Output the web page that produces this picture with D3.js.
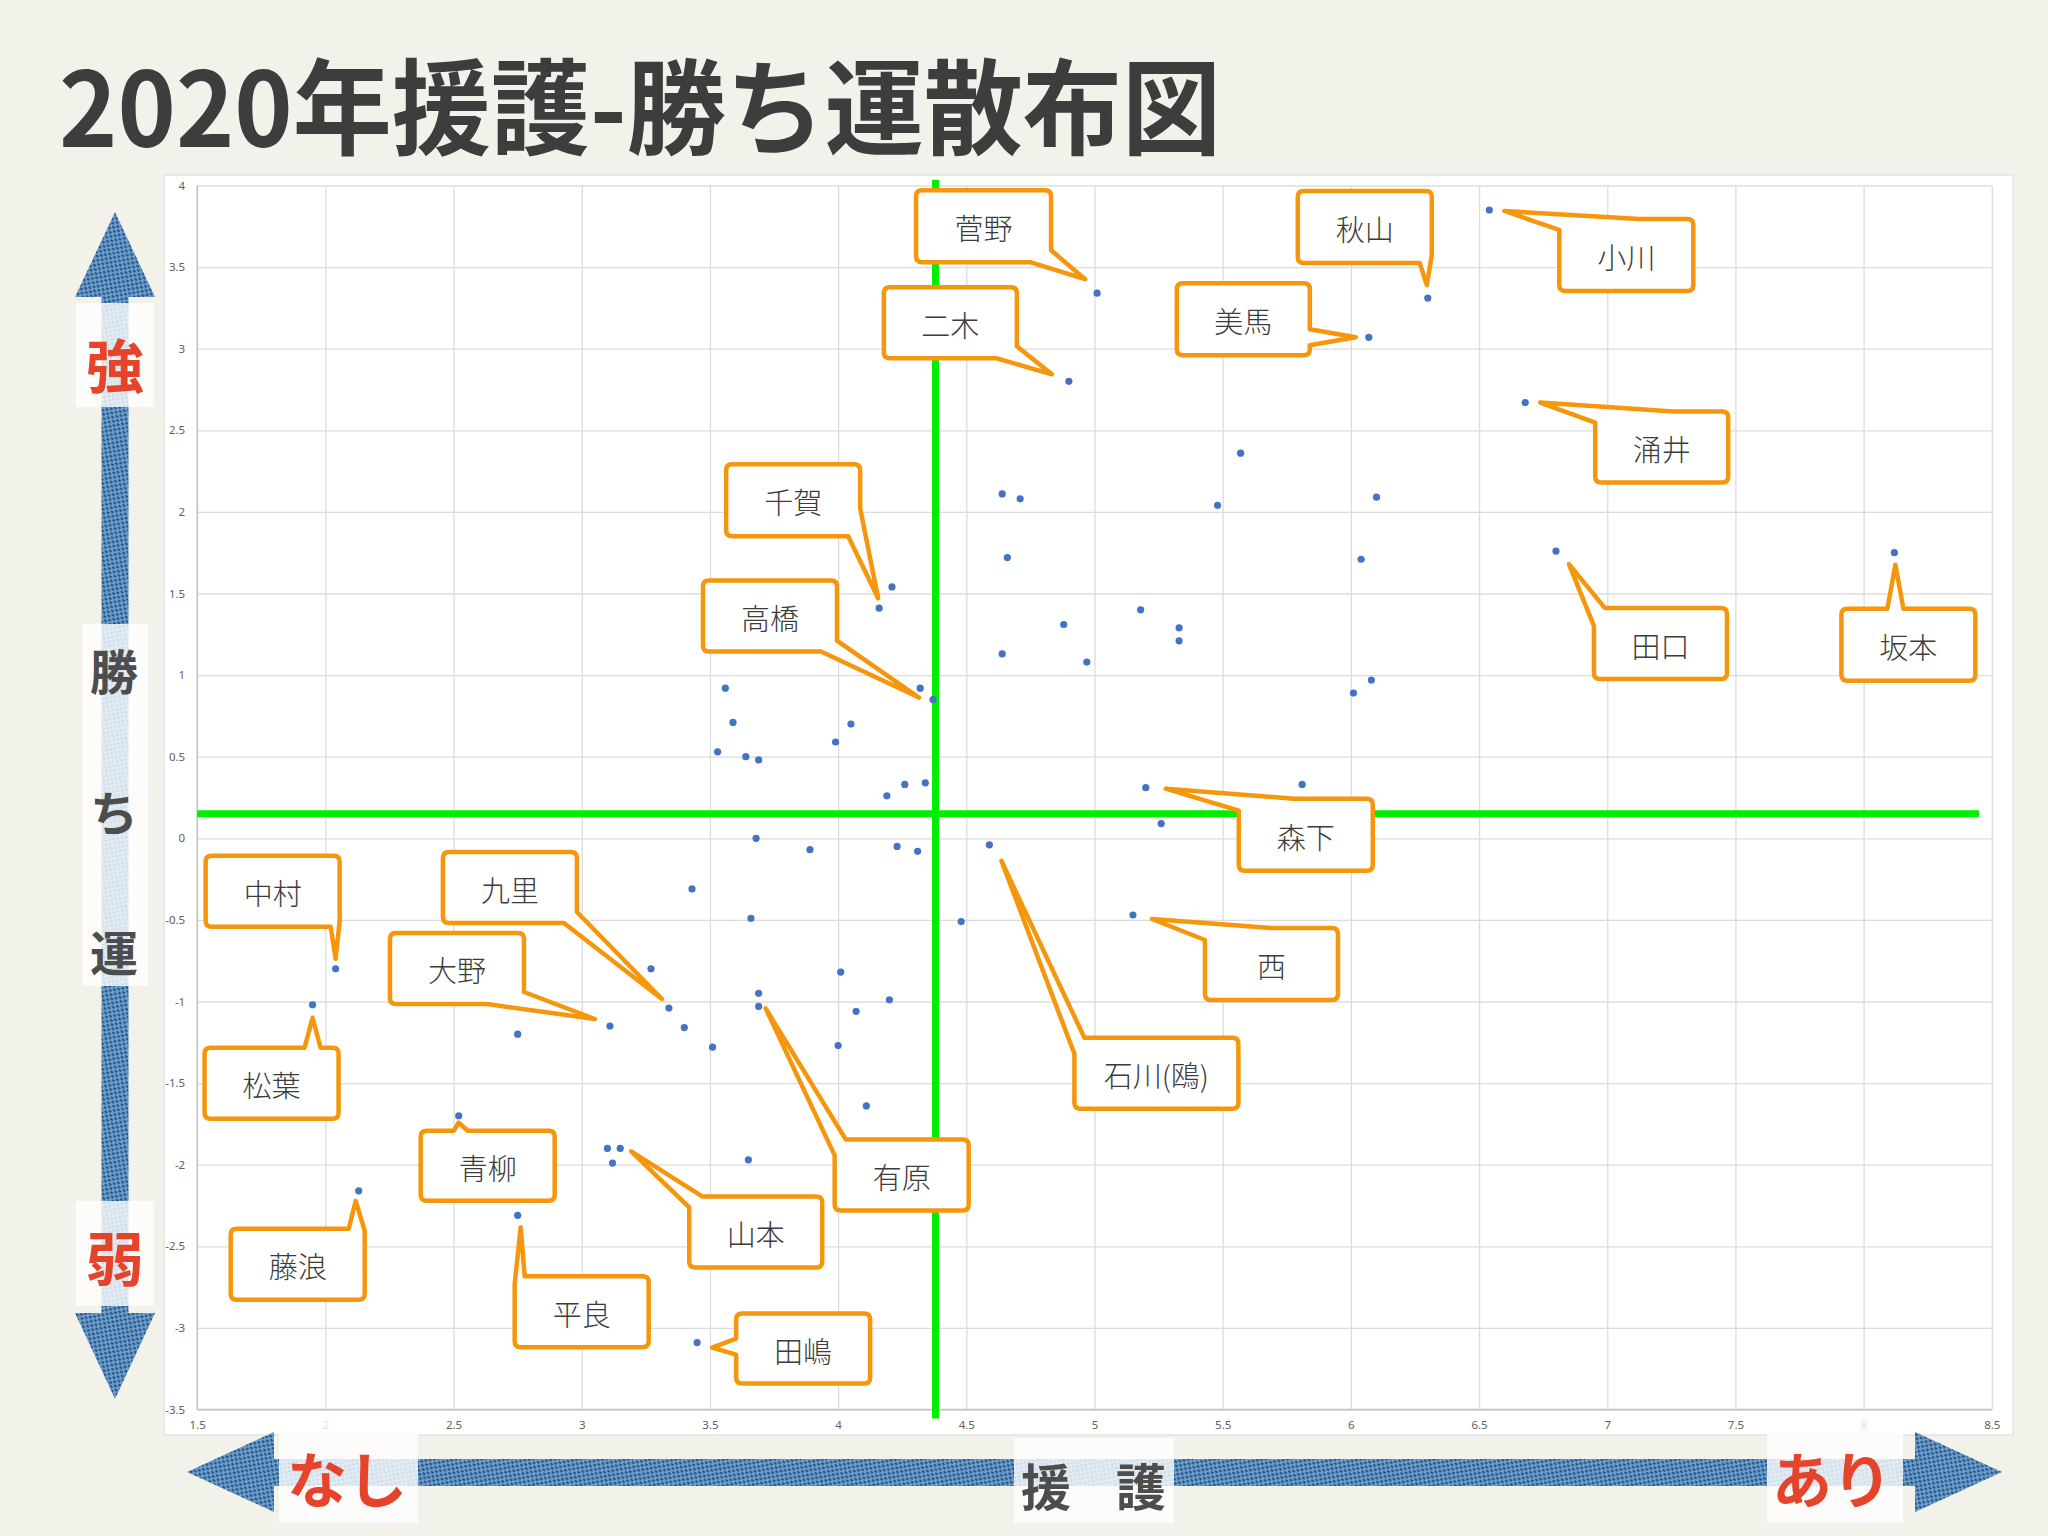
<!DOCTYPE html>
<html><head><meta charset="utf-8">
<script src="https://cdn.jsdelivr.net/npm/d3@7"></script>
<style>
html,body{margin:0;padding:0;background:#f2f1ea;}
svg{display:block;}
</style></head><body>
<svg id="c" width="2048" height="1536"></svg>
<script>
// ---------------- DATA ----------------
const titleText = "2020年援護-勝ち運散布図";
// player names ("" = unlabeled point)
const players = ["菅野","二木","秋山","美馬","小川","涌井","田口","坂本","千賀","高橋","森下","石川(鴎)","西",
  "中村","松葉","九里","大野","有原","青柳","山本","藤浪","平良","田嶋",
  "","","","","","","","","","","","","","","","","","","","","","","","","","","","","","","","","","","","","","","","","","","","",""];
// 援護 (run support)
const engo = [5.01,4.90,6.30,6.07,6.54,6.68,6.80,8.12,4.16,4.37,5.20,4.59,5.15,
  2.04,1.95,3.34,3.11,3.69,2.52,3.15,2.13,2.75,3.45,
  5.57,5.48,6.10,4.64,4.71,4.66,6.04,4.21,5.18,4.88,5.33,5.33,4.64,4.97,6.08,6.01,3.56,4.32,3.59,4.05,3.99,3.53,3.64,3.69,
  4.26,4.34,4.19,5.81,5.26,3.68,3.89,4.23,4.31,3.43,3.66,4.48,3.27,4.01,3.69,4.20,4.07,3.40,3.51,4.00,2.75,4.11,3.10,3.12,3.65];
// 勝ち運 (luck)
const kachiun = [3.34,2.80,3.31,3.07,3.85,2.67,1.76,1.75,1.41,0.85,0.31,-0.04,-0.47,
  -0.80,-1.02,-1.04,-1.15,-1.03,-1.70,-1.90,-2.16,-2.31,-3.09,
  2.36,2.04,2.09,2.11,2.08,1.72,1.71,1.54,1.40,1.31,1.29,1.21,1.13,1.08,0.97,0.89,0.92,0.92,0.71,0.70,0.59,0.53,0.50,0.48,
  0.33,0.34,0.26,0.33,0.09,0.00,-0.07,-0.05,-0.08,-0.31,-0.49,-0.51,-0.80,-0.82,-0.95,-0.99,-1.06,-1.16,-1.28,-1.27,-1.20,-1.64,-1.90,-1.99,-1.97];
const xTicks = [1.5,2,2.5,3,3.5,4,4.5,5,5.5,6,6.5,7,7.5,8,8.5];
const yTicks = [4,3.5,3,2.5,2,1.5,1,0.5,0,-0.5,-1,-1.5,-2,-2.5,-3,-3.5];
const meanEngo = 4.38;     // vertical green line
const meanKachiun = 0.15;  // horizontal green line

// ---------------- CALLOUT LAYOUT (pixel offsets from the point) ----------------
const calloutLayout = [
  {name:"菅野", dx:-181, dy:-103, w:135, h:72, b1:[135,60], b2:[114,72], tip:[-12,-14]},
  {name:"二木", dx:-185, dy:-94, w:133, h:71, b1:[133,59], b2:[113,71], tip:[-17,-7]},
  {name:"秋山", dx:-130, dy:-107, w:134, h:72, b1:[122,72], b2:[134,64], tip:[-1,-13]},
  {name:"美馬", dx:-192, dy:-54, w:133, h:72, b1:[133,46], b2:[133,62], tip:[-13,0]},
  {name:"小川", dx:70, dy:9, w:134, h:72, b1:[0,11], b2:[80,0], tip:[15,1]},
  {name:"涌井", dx:70, dy:9, w:133, h:71, b1:[0,11], b2:[78,0], tip:[15,0]},
  {name:"田口", dx:38, dy:57, w:133, h:71, b1:[11,0], b2:[0,18], tip:[13,13]},
  {name:"坂本", dx:-53, dy:56, w:134, h:72, b1:[46,0], b2:[62,0], tip:[1,12]},
  {name:"千賀", dx:-153, dy:-144, w:134, h:72, b1:[134,44], b2:[122,72], tip:[-1,-10]},
  {name:"高橋", dx:-230, dy:-119, w:134, h:71, b1:[134,60], b2:[118,71], tip:[-14,-2]},
  {name:"森下", dx:93, dy:11, w:134, h:72, b1:[0,12], b2:[55,0], tip:[20,1]},
  {name:"石川(鴎)", dx:85, dy:193, w:164, h:71, b1:[10,0], b2:[0,16], tip:[12,16]},
  {name:"西", dx:72, dy:13, w:133, h:72, b1:[0,12], b2:[66,0], tip:[19,4]},
  {name:"中村", dx:-130, dy:-113, w:134, h:71, b1:[125,71], b2:[134,65], tip:[0,-10]},
  {name:"松葉", dx:-108, dy:43, w:134, h:71, b1:[100,0], b2:[116,0], tip:[0,13]},
  {name:"九里", dx:-226, dy:-156, w:134, h:71, b1:[134,60], b2:[121,71], tip:[-7,-9]},
  {name:"大野", dx:-220, dy:-93, w:134, h:71, b1:[134,59], b2:[97,71], tip:[-15,-7]},
  {name:"有原", dx:76, dy:133, w:134, h:71, b1:[11,0], b2:[0,16], tip:[7,2]},
  {name:"青柳", dx:-38, dy:15, w:134, h:70, b1:[33,0], b2:[47,0], tip:[0,7]},
  {name:"山本", dx:69, dy:48, w:133, h:71, b1:[0,11], b2:[13,0], tip:[11,3]},
  {name:"藤浪", dx:-128, dy:38, w:134, h:71, b1:[118,0], b2:[134,2], tip:[-3,10]},
  {name:"平良", dx:-3, dy:61, w:134, h:71, b1:[0,8], b2:[10,0], tip:[3,12]},
  {name:"田嶋", dx:39, dy:-29, w:134, h:70, b1:[0,25], b2:[0,41], tip:[15,5]}
];

// ---------------- DRAW ----------------
const svg = d3.select("#c");
const defs = svg.append("defs");
const pat = defs.append("pattern").attr("id","tex").attr("width",6).attr("height",6)
  .attr("patternUnits","userSpaceOnUse").attr("patternTransform","rotate(35)");
pat.append("rect").attr("width",6).attr("height",6).attr("fill","#6e9ecb");
pat.append("rect").attr("x",0).attr("y",0).attr("width",3).attr("height",2.2).attr("fill","#28598a");
pat.append("rect").attr("x",3).attr("y",3).attr("width",3).attr("height",2.2).attr("fill","#28598a");

svg.append("rect").attr("width",2048).attr("height",1536).attr("fill","#f2f1ea");

// title
svg.append("text").attr("x",59).attr("y",147)
  .attr("textLength",1162).attr("lengthAdjust","spacingAndGlyphs")
  .attr("font-family","'Noto Sans CJK JP','Noto Sans CJK SC',sans-serif")
  .attr("font-size",104).attr("font-weight",600).attr("fill","#3d3d3d")
  .text(titleText);

// chart panel
svg.append("rect").attr("x",164).attr("y",175).attr("width",1849).attr("height",1260)
  .attr("fill","#ffffff").attr("stroke","#e4e4e0").attr("stroke-width",1.5);

const x = d3.scaleLinear().domain([1.5,8.5]).range([197.2,1991.8]);
const y = d3.scaleLinear().domain([-3.5,4]).range([1409.5,185.5]);
const pw = x(8.5)-x(1.5), ph = y(-3.5)-y(4);

const gx = svg.append("g").attr("transform",`translate(0,${y(-3.5)})`)
  .call(d3.axisBottom(x).tickValues(xTicks).tickSize(-ph).tickPadding(11).tickFormat(d=>String(d)));
const gy = svg.append("g").attr("transform",`translate(${x(1.5)},0)`)
  .call(d3.axisLeft(y).tickValues(yTicks).tickSize(-pw).tickPadding(12).tickFormat(d=>String(d)));
[gx,gy].forEach(g=>{
  g.select(".domain").remove();
  g.selectAll(".tick line").attr("stroke","#dcdcdc").attr("stroke-width",1.3);
  g.selectAll(".tick text").attr("fill","#606060").attr("font-size",11.5)
    .attr("font-family","'Noto Sans','Liberation Sans',sans-serif");
});
// axis lines
svg.append("line").attr("x1",x(1.5)).attr("x2",x(1.5)).attr("y1",y(4)).attr("y2",y(-3.5))
  .attr("stroke","#c4c4c4").attr("stroke-width",1.5);
svg.append("line").attr("x1",x(1.5)).attr("x2",x(8.5)).attr("y1",y(-3.5)).attr("y2",y(-3.5))
  .attr("stroke","#c4c4c4").attr("stroke-width",1.5);

// green average lines
svg.append("line").attr("x1",x(1.5)).attr("x2",x(8.45)).attr("y1",y(meanKachiun)).attr("y2",y(meanKachiun))
  .attr("stroke","#00ee00").attr("stroke-width",7);
svg.append("line").attr("x1",x(meanEngo)).attr("x2",x(meanEngo)).attr("y1",y(4.035)).attr("y2",y(-3.555))
  .attr("stroke","#00ee00").attr("stroke-width",7);

// points
const pts = engo.map((v,i)=>({name:players[i],x:v,y:kachiun[i]}));
svg.append("g").selectAll("circle").data(pts).join("circle")
  .attr("cx",d=>x(d.x)).attr("cy",d=>y(d.y)).attr("r",3.6).attr("fill","#4472c4");

// callouts
function calloutPath(x0,y0,w,h,b1,b2,tip,r){
  const P=2*(w+h);
  function tOf(p){
    const bx=p[0], by=p[1];
    const dT=Math.abs(by), dB=Math.abs(by-h), dL=Math.abs(bx), dR=Math.abs(bx-w);
    const m=Math.min(dT,dB,dL,dR);
    const cx=Math.max(0,Math.min(w,bx)), cy=Math.max(0,Math.min(h,by));
    if(m===dT) return cx;
    if(m===dR) return w+cy;
    if(m===dB) return w+h+(w-cx);
    return 2*w+h+(h-cy);
  }
  function pt(t){
    t=((t%P)+P)%P;
    if(t<w) return [x0+t,y0];
    if(t<w+h) return [x0+w,y0+t-w];
    if(t<2*w+h) return [x0+w-(t-w-h),y0+h];
    return [x0,y0+h-(t-2*w-h)];
  }
  const t1=tOf(b1), t2=tOf(b2);
  let tA,tB;
  if(((t2-t1+P)%P) < P/2){tA=t1;tB=t2;} else {tA=t2;tB=t1;}
  const L=(tA-tB+P)%P;
  const corners=[0,w,w+h,2*w+h].map(c=>({c,off:(c-tB+P)%P}))
    .filter(o=>o.off>0&&o.off<L).sort((a,b)=>a.off-b.off);
  let d=`M${pt(tB)}`;
  corners.forEach(o=>{ d+=`L${pt(o.c-r)}Q${pt(o.c)} ${pt(o.c+r)}`; });
  d+=`L${pt(tA)}L${tip}Z`;
  return d;
}
const byName = new Map(pts.filter(p=>p.name).map(p=>[p.name,p]));
const cg = svg.append("g");
calloutLayout.forEach(c=>{
  const p = byName.get(c.name);
  const px = x(p.x), py = y(p.y);
  const x0 = px+c.dx, y0 = py+c.dy;
  cg.append("path").attr("d",calloutPath(x0,y0,c.w,c.h,c.b1,c.b2,[px+c.tip[0],py+c.tip[1]],6))
    .attr("fill","#ffffff").attr("stroke","#f5960c").attr("stroke-width",4.5).attr("stroke-linejoin","round");
  cg.append("text").attr("x",x0+c.w/2).attr("y",y0+c.h/2+1)
    .attr("text-anchor","middle").attr("dominant-baseline","central")
    .attr("font-family","'Noto Sans CJK JP',sans-serif").attr("font-size",29).attr("font-weight",300)
    .attr("fill","#3c3c3c").text(c.name);
});

// ---------------- decorative axis arrows ----------------
const deco = svg.append("g");
deco.append("path").attr("d","M115,212 L155,297 L128.5,297 L128.5,1313 L155,1313 L115,1399 L75,1313 L101.5,1313 L101.5,297 L75,297 Z")
  .attr("fill","url(#tex)");
deco.append("path").attr("d","M187,1472 L274,1432 L274,1459 L1915,1459 L1915,1432 L2002,1472 L1915,1512 L1915,1486 L274,1486 L274,1512 Z")
  .attr("fill","url(#tex)");

const boxes = [[76,303,78,104],[82,624,66,362],[76,1201,78,105],[279,1416,139,107],[1014,1438,160,85],[1767,1416,136,107]];
deco.selectAll("rect.lb").data(boxes).join("rect").attr("class","lb")
  .attr("x",d=>d[0]).attr("y",d=>d[1]).attr("width",d=>d[2]).attr("height",d=>d[3])
  .attr("fill","#ffffff").attr("fill-opacity",0.8);

const labels = [
  {t:"強",x:115,y:363,s:58,c:"#e5432a"},
  {t:"勝",x:114,y:669,s:48,c:"#4d4d4d"},
  {t:"ち",x:114,y:810,s:48,c:"#4d4d4d"},
  {t:"運",x:114,y:950,s:48,c:"#4d4d4d"},
  {t:"弱",x:115,y:1256,s:58,c:"#e5432a"},
  {t:"なし",x:347,y:1476,s:60,c:"#e5432a"},
  {t:"援",x:1046,y:1484,s:50,c:"#4d4d4d"},
  {t:"護",x:1141,y:1484,s:50,c:"#4d4d4d"},
  {t:"あり",x:1832,y:1476,s:60,c:"#e5432a"}
];
deco.selectAll("text.dl").data(labels).join("text").attr("class","dl")
  .attr("x",d=>d.x).attr("y",d=>d.y).attr("text-anchor","middle").attr("dominant-baseline","central")
  .attr("font-family","'Noto Sans CJK JP',sans-serif").attr("font-weight",700)
  .attr("font-size",d=>d.s).attr("fill",d=>d.c).text(d=>d.t);
</script>
</body></html>
